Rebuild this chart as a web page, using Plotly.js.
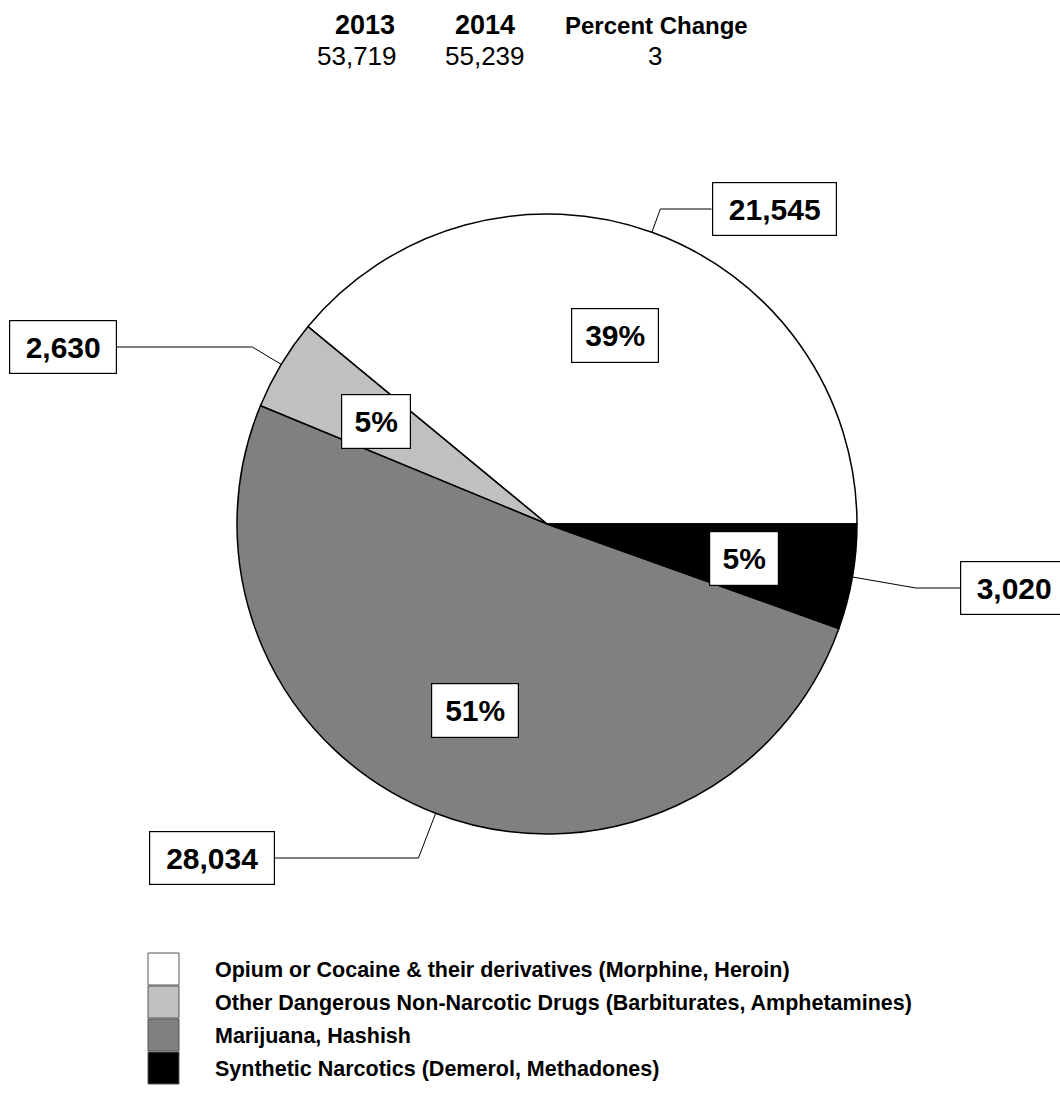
<!DOCTYPE html>
<html>
<head>
<meta charset="utf-8">
<script src="https://cdn.plot.ly/plotly-3.0.1.min.js"></script>
<style>
  html, body { margin: 0; padding: 0; background: #ffffff; }
  #chart { width: 1060px; height: 1099px; }
</style>
</head>
<body>
<div id="chart"></div>
<script>
// ---------- data ----------
const categories = [
  'Opium or Cocaine & their derivatives (Morphine, Heroin)',
  'Other Dangerous Non-Narcotic Drugs (Barbiturates, Amphetamines)',
  'Marijuana, Hashish',
  'Synthetic Narcotics (Demerol, Methadones)'
];
const values2014 = [21545, 2630, 28034, 3020];
const headerLabels = ['2013', '2014', 'Percent Change'];
const headerValues = ['53,719', '55,239', '3'];

// ---------- styles / layout config ----------
const sliceColors = ['#ffffff', '#c0c0c0', '#808080', '#000000'];
const W = 1060, H = 1099;
const CX = 547, CY = 524, R = 310;           // pie centre and radius in px
const pctDist = 0.645;                         // percent box distance (fraction of R)
const valueBoxPos = [                          // value box centres (px) and widths
  {x: 774, y: 209, w: 125},
  {x: 63,  y: 347, w: 108},
  {x: 212, y: 858, w: 126},
  {x: 1014, y: 588, w: 108}
];
const headerX = [365, 485, 656];
const headerValX = [357, 485, 655];
const boxFont = {family: 'Liberation Sans, Arial, sans-serif', size: 30, color: '#000', weight: 'bold'};
const legendFont = {family: 'Liberation Sans, Arial, sans-serif', size: 21.5, color: '#000', weight: 'bold'};

const px = x => x / W;
const py = y => 1 - y / H;

const total = values2014.reduce((a, b) => a + b, 0);
const fracs = values2014.map(v => v / total);

// slices run counter-clockwise starting at 3 o'clock
const rotation = 90 - 360 * fracs[0];

const annotations = [];
const shapes = [];

// header
headerLabels.forEach((t, i) => {
  annotations.push({xref: 'paper', yref: 'paper', x: px(headerX[i]), y: py(25), text: t,
    showarrow: false, xanchor: 'center', yanchor: 'middle',
    font: {family: 'Liberation Sans, Arial, sans-serif', size: i === 2 ? 24 : 27, color: '#000', weight: 'bold'}});
  annotations.push({xref: 'paper', yref: 'paper', x: px(headerValX[i]), y: py(56), text: headerValues[i],
    showarrow: false, xanchor: 'center', yanchor: 'middle',
    font: {family: 'Liberation Sans, Arial, sans-serif', size: 26, color: '#000'}});
});

// labels
let cum = 0;
values2014.forEach((v, i) => {
  const mid = (cum + fracs[i] / 2) * 2 * Math.PI;
  cum += fracs[i];
  const c = Math.cos(mid), s = Math.sin(mid);
  // percent box
  annotations.push({xref: 'paper', yref: 'paper',
    x: px(CX + pctDist * R * c), y: py(CY - pctDist * R * s),
    text: Math.round(fracs[i] * 100) + '%', showarrow: false,
    xanchor: 'center', yanchor: 'middle',
    width: fracs[i] > 0.1 ? 84 : 66, height: 51, borderpad: 1,
    bgcolor: '#ffffff', bordercolor: '#000000', borderwidth: 1.2, font: boxFont});
  // value box
  const b = valueBoxPos[i];
  annotations.push({xref: 'paper', yref: 'paper', x: px(b.x), y: py(b.y),
    text: v.toLocaleString('en-US'), showarrow: false,
    xanchor: 'center', yanchor: 'middle',
    width: b.w - 4, height: 50, borderpad: 1,
    bgcolor: '#ffffff', bordercolor: '#000000', borderwidth: 1.2, font: boxFont});
  // leader line
  const ax = CX + R * c, ay = CY - R * s;
  const t = (CY - b.y) / s;
  const ex = CX + t * c, ey = b.y;
  const endX = b.x > ex ? b.x - b.w / 2 : b.x + b.w / 2;
  shapes.push({type: 'line', xref: 'paper', yref: 'paper', x0: px(ax), y0: py(ay), x1: px(ex), y1: py(ey), line: {color: '#000', width: 1}});
  shapes.push({type: 'line', xref: 'paper', yref: 'paper', x0: px(ex), y0: py(ey), x1: px(endX), y1: py(ey), line: {color: '#000', width: 1}});
});

// legend
categories.forEach((name, i) => {
  const top = 953 + i * 33;
  shapes.push({type: 'rect', xref: 'paper', yref: 'paper', x0: px(148), x1: px(179), y0: py(top), y1: py(top + 32),
    fillcolor: sliceColors[i], line: {color: '#555', width: 1}});
  annotations.push({xref: 'paper', yref: 'paper', x: px(213), y: py(top + 17), text: name,
    showarrow: false, xanchor: 'left', yanchor: 'middle', font: legendFont});
});

const trace = {
  type: 'pie',
  labels: categories,
  values: values2014,
  sort: false,
  direction: 'counterclockwise',
  rotation: rotation,
  textinfo: 'none',
  hoverinfo: 'label+value+percent',
  marker: {colors: sliceColors, line: {color: '#000000', width: 1.5}},
  domain: {x: [px(CX - R), px(CX + R)], y: [py(CY + R), py(CY - R)]}
};

const layout = {
  width: W, height: H,
  margin: {l: 0, r: 0, t: 0, b: 0},
  paper_bgcolor: '#ffffff',
  showlegend: false,
  annotations: annotations,
  shapes: shapes
};

Plotly.newPlot('chart', [trace], layout, {displayModeBar: false, staticPlot: true});
</script>
</body>
</html>
